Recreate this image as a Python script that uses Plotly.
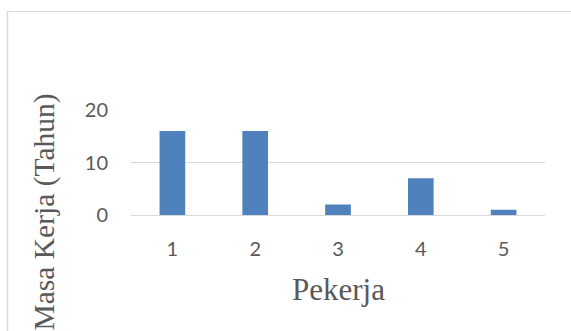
import plotly.graph_objects as go

categories = ["1", "2", "3", "4", "5"]
values = [16, 16, 2, 7, 1]
y_ticks = [0, 10, 20]

W, H = 571, 331
L, R, T, B = 131, 26, 110, 115.5
pw, ph = W - L - R, H - T - B

def px(x):
    return (x - L) / pw

def py(y):
    return (H - B - y) / ph

fig = go.Figure(go.Bar(x=categories, y=values, marker=dict(color="#4f81bd", line=dict(width=0)),
                       width=0.31))

fig.update_layout(
    width=W, height=H, margin=dict(l=L, r=R, t=T, b=B, pad=0),
    paper_bgcolor="white", plot_bgcolor="white", showlegend=False,
    xaxis=dict(type="category", showgrid=False, showline=False, zeroline=False,
               ticks="", tickfont=dict(family="Lato", size=20, color="#595959"),
               ticklabelstandoff=20),
    yaxis=dict(range=[0, 20], tickvals=y_ticks, showgrid=True, gridcolor="#d9d9d9",
               gridwidth=1, zeroline=True, zerolinecolor="#d9d9d9", zerolinewidth=1,
               showline=False, ticks="", tickfont=dict(family="Lato", size=20, color="#595959"),
               ticklabelstandoff=22),
    annotations=[
        dict(text="Pekerja", xref="paper", yref="paper", x=0.5, y=py(290),
             xanchor="center", yanchor="middle", showarrow=False,
             font=dict(family="Liberation Serif", size=31, color="#595959")),
        dict(text="Masa Kerja (Tahun)", xref="paper", yref="paper", x=px(45), y=py(213),
             xanchor="center", yanchor="middle", textangle=-90, showarrow=False,
             font=dict(family="Liberation Serif", size=29.5, color="#595959")),
    ],
    shapes=[
        dict(type="line", xref="paper", yref="paper", x0=px(7.5), x1=px(7.5), y0=py(11), y1=py(340),
             line=dict(color="#d9d9d9", width=1.5)),
        dict(type="line", xref="paper", yref="paper", x0=px(7), x1=px(580), y0=py(11), y1=py(11),
             line=dict(color="#d9d9d9", width=1)),
    ],
)

fig.write_html("out.html")
